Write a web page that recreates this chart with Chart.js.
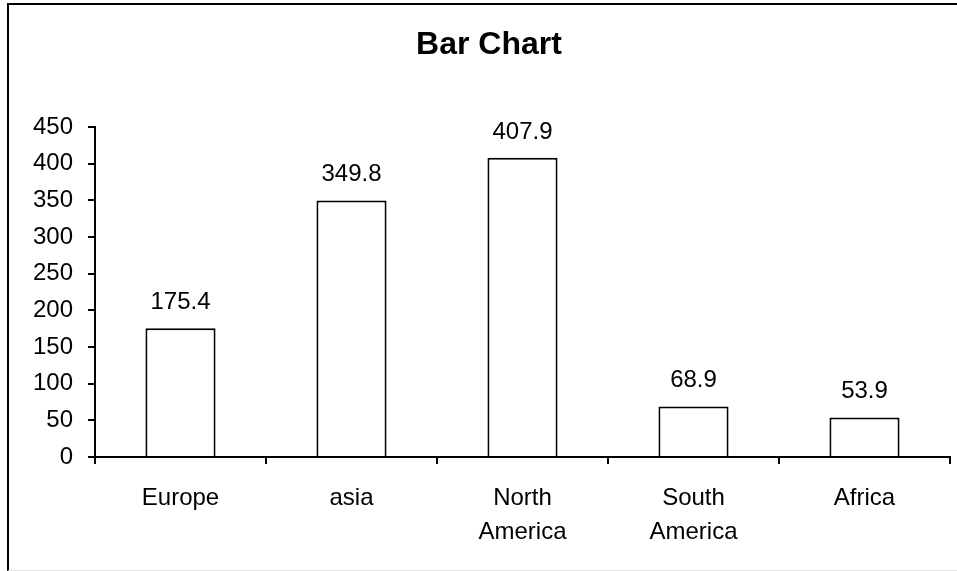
<!DOCTYPE html>
<html lang="en">

<head>
  <meta charset="UTF-8">
  <title>Bar Chart</title>
</head>

<style>
  body {
    margin: 0;
    background-color: white;
  }

  .frame {
    position: absolute;
    left: 7px;
    top: 3px;
    width: 1000px;
    height: 565px;
    border-left: 2px solid black;
    border-top: 2px solid black;
    border-bottom: 1px solid #e4e4e4;
  }

  .chart {
    position: absolute;
    left: 0;
    top: 0;
    width: 957px;
    height: 571px;
  }
</style>

<body>
  <script src="https://cdn.jsdelivr.net/npm/chart.js"></script>
  <div class="frame"></div>
  <div class="chart">
    <canvas id="barChart" width="957" height="571"></canvas>
  </div>

  <script>
    // data
    const chartTitle = 'Bar Chart';
    const regions = ['Europe', 'asia', ['North', 'America'], ['South', 'America'], 'Africa'];
    const amounts = [175.4, 349.8, 407.9, 68.9, 53.9];
    const yTicks = [0, 50, 100, 150, 200, 250, 300, 350, 400, 450];

    Chart.defaults.font.family = '"Liberation Sans", Arial, sans-serif';
    Chart.defaults.color = '#000';

    // title (sits a bit left of the plot centre, like the original) + value above each bar
    const extraText = {
      id: 'extraText',
      afterDatasetsDraw(chart) {
        const ctx = chart.ctx;
        ctx.save();
        ctx.fillStyle = '#000';
        ctx.textAlign = 'center';

        ctx.font = 'bold 32px "Liberation Sans", Arial, sans-serif';
        ctx.textBaseline = 'middle';
        ctx.fillText(chartTitle, 489, 45);

        ctx.font = '24px "Liberation Sans", Arial, sans-serif';
        ctx.textBaseline = 'alphabetic';
        chart.getDatasetMeta(0).data.forEach((bar, i) => {
          ctx.fillText(amounts[i].toFixed(1), bar.x, bar.y - 19);
        });
        ctx.restore();
      }
    };

    new Chart(document.getElementById('barChart'), {
      type: 'bar',
      data: {
        labels: regions,
        datasets: [{
          data: amounts,
          backgroundColor: '#fff',
          borderColor: '#000',
          borderWidth: 2,
          barPercentage: 0.41,
          categoryPercentage: 1
        }]
      },
      options: {
        responsive: false,
        animation: false,
        layout: { padding: { left: 0, right: 7, top: 127, bottom: 0 } },
        plugins: {
          legend: { display: false },
          tooltip: { enabled: false },
          title: { display: false }
        },
        scales: {
          x: {
            grid: { drawOnChartArea: false, drawTicks: true, tickLength: 7, color: '#000', lineWidth: 2 },
            border: { color: '#000', width: 2 },
            ticks: { font: { size: 24, lineHeight: 1.42 }, padding: 17, maxRotation: 0 },
            afterFit(scale) { scale.height = 114; }
          },
          y: {
            min: 0,
            max: 450,
            afterBuildTicks(scale) { scale.ticks = yTicks.map(v => ({ value: v })); },
            grid: { drawOnChartArea: false, drawTicks: true, tickLength: 7, color: '#000', lineWidth: 2 },
            border: { color: '#000', width: 2 },
            ticks: { font: { size: 24 }, padding: 15 },
            afterFit(scale) { scale.width = 95; }
          }
        }
      },
      plugins: [extraText]
    });
  </script>
</body>

</html>
